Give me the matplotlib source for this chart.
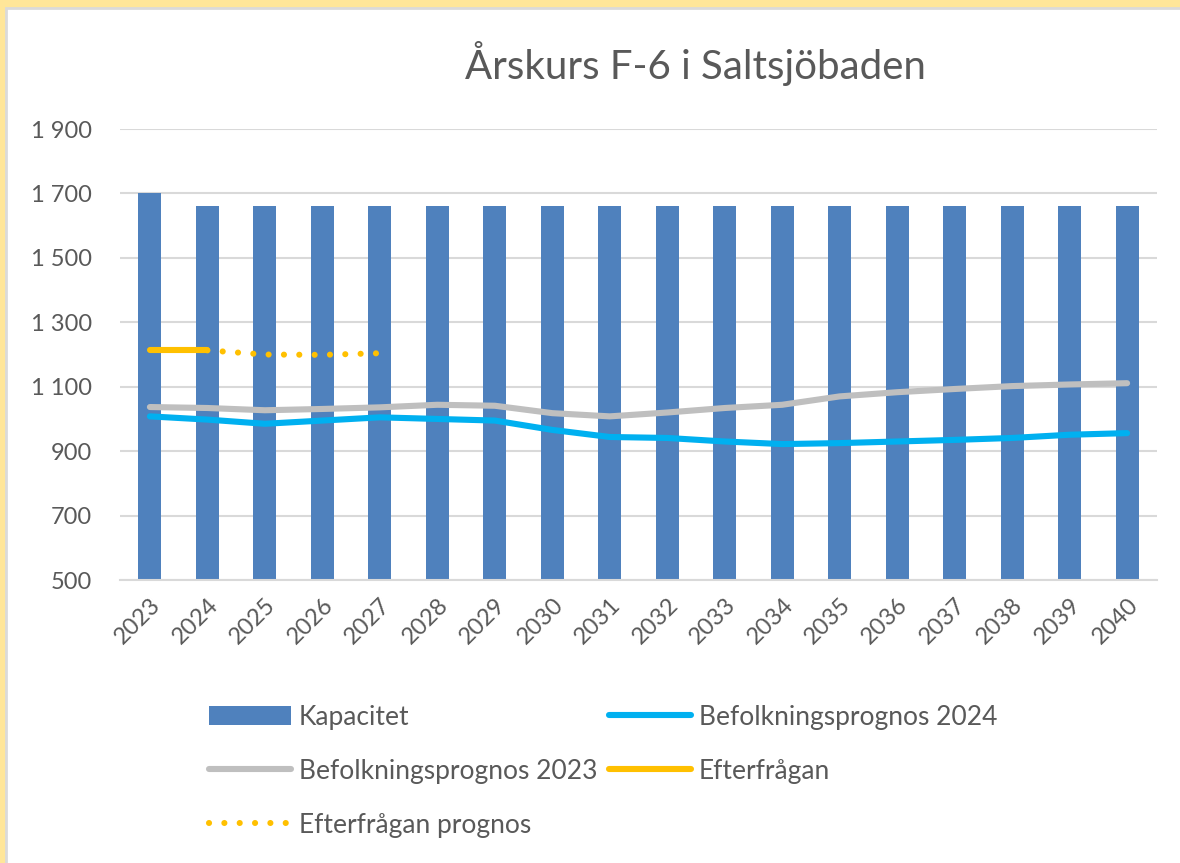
import matplotlib.pyplot as plt
import matplotlib.patches as patches
import numpy as np

years = ['2023', '2024', '2025', '2026', '2027', '2028', '2029', '2030', '2031',
         '2032', '2033', '2034', '2035', '2036', '2037', '2038', '2039', '2040']
kapacitet = [1700, 1660, 1660, 1660, 1660, 1660, 1660, 1660, 1660,
             1660, 1660, 1660, 1660, 1660, 1660, 1660, 1660, 1660]
bef_2024 = [1008, 998, 985, 995, 1005, 1000, 995, 966, 944,
            941, 930, 922, 925, 930, 935, 941, 951, 956]
bef_2023 = [1037, 1034, 1027, 1031, 1036, 1044, 1041, 1018, 1008,
            1020, 1034, 1044, 1070, 1083, 1093, 1102, 1107, 1111]
efterfragan = [1213, 1213]                      # 2023-2024
efterfragan_prognos = [1213, 1200, 1199, 1204]  # 2024-2027
yticks = [500, 700, 900, 1100, 1300, 1500, 1700, 1900]

plt.rcParams['font.family'] = ['Lato', 'DejaVu Sans']
txt = '#595959'
lw = 4.4

fig = plt.figure(figsize=(11.8, 8.63), dpi=100)
fig.patch.set_facecolor('#FFE699')
# vit ram inne i den gula kanten (gul bara upptill och till vänster)
fig.patches.append(patches.Rectangle((6 / 1180, -0.05), 1.05, 1.05 - 8 / 863,
                                     transform=fig.transFigure, facecolor='white',
                                     edgecolor='#DADADA', linewidth=2, zorder=-10))

ax = fig.add_axes([0.1017, 0.3279, 0.8788, 0.5226])
ax.set_facecolor('none')
x = np.arange(len(years))

bars = ax.bar(x, kapacitet, width=0.4, color='#4F81BD', label='Kapacitet', zorder=2)
l24, = ax.plot(x, bef_2024, color='#00B0F0', lw=lw, solid_capstyle='round',
               solid_joinstyle='round', label='Befolkningsprognos 2024', zorder=3)
l23, = ax.plot(x, bef_2023, color='#BFBFBF', lw=lw, solid_capstyle='round',
               solid_joinstyle='round', label='Befolkningsprognos 2023', zorder=3)
le, = ax.plot(x[:len(efterfragan)], efterfragan, color='#FFC000', lw=lw,
              solid_capstyle='round', label='Efterfrågan', zorder=4)
lp, = ax.plot(x[1:1 + len(efterfragan_prognos)], efterfragan_prognos, color='#FFC000',
              lw=lw, linestyle=(0, (0.01, 2.5)), dash_capstyle='round',
              label='Efterfrågan prognos', zorder=4)

ax.set_ylim(500, 1900)
ax.set_xlim(-0.52, 17.52)
ax.set_yticks(yticks)
ax.set_yticklabels([f'{v:,}'.replace(',', ' ') for v in yticks])
ax.set_xticks(x)
ax.set_xticklabels(years, rotation=45, ha='right', va='top', rotation_mode='anchor')
ax.tick_params(axis='y', length=0, pad=20, labelsize=17, labelcolor=txt)
ax.tick_params(axis='x', length=0, pad=10, labelsize=17, labelcolor=txt)
ax.grid(axis='y', color='#D9D9D9', linewidth=1.5, zorder=0)
ax.set_axisbelow(True)
for s in ['top', 'right', 'left']:
    ax.spines[s].set_visible(False)
ax.spines['bottom'].set_color('#D9D9D9')
ax.spines['bottom'].set_linewidth(1.5)

fig.text(0.589, 0.926, 'Årskurs F-6 i Saltsjöbaden', ha='center', va='center',
         fontsize=29, color=txt)

hl = [bars, l23, lp, l24, le]
fig.legend(hl, [h.get_label() for h in hl], loc='upper left', ncol=2,
           bbox_to_anchor=(0.157, 0.211), frameon=False, fontsize=19,
           labelcolor=txt, handlelength=3.1, handleheight=0.7, handletextpad=0.3,
           labelspacing=1.1, columnspacing=0.45)

fig.savefig('out.png', dpi=100)
